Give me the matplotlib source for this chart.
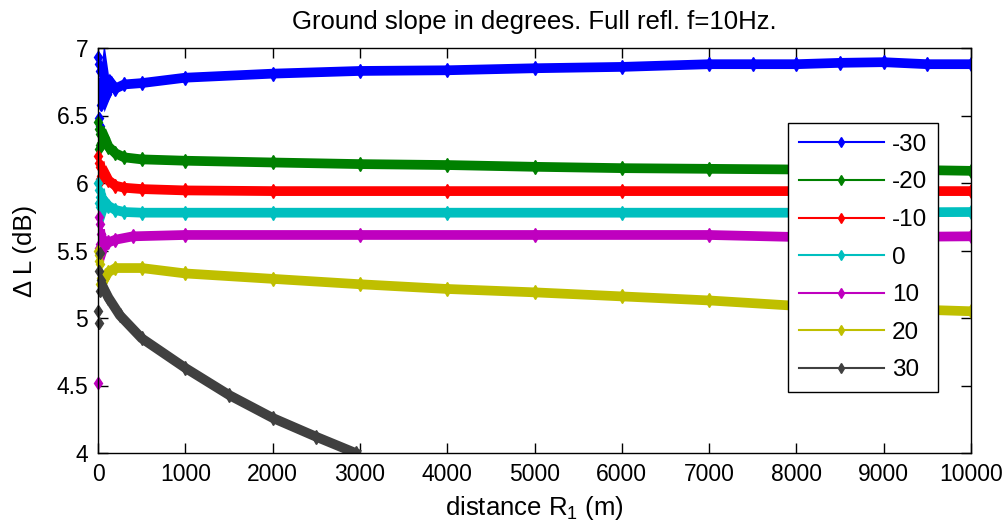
import matplotlib
matplotlib.use("Agg")
import matplotlib.pyplot as plt
from matplotlib.lines import Line2D

plt.rcParams['font.family'] = ['Liberation Sans', 'DejaVu Sans']
plt.rcParams['mathtext.fontset'] = 'custom'
plt.rcParams['mathtext.rm'] = 'Liberation Sans'
plt.rcParams['mathtext.it'] = 'Liberation Sans'

title = "Ground slope in degrees. Full refl. f=10Hz."
xlabel = "distance R$_1$ (m)"
ylabel = "\u0394 L (dB)"
labels = ["-30", "-20", "-10", "0", "10", "20", "30"]
colors = ["#0000ff", "#008000", "#ff0000", "#00bfbf", "#bf00bf", "#bfbf00", "#404040"]

# scattered values very close to the source (x < ~40 m)
x_near = [0, 6, 12, 18, 24, 30]
y_near_m30 = [6.93, 6.48, 6.88, 6.42, 6.83, 6.58]
y_near_m20 = [6.45, 6.25, 6.40, 6.28, 6.36, 6.30]
y_near_m10 = [6.20, 6.00, 6.15, 6.03, 6.12, 6.05]
y_near_0 = [6.00, 5.85, 5.95, 5.82, 5.90, 5.86]
y_near_10 = [4.52, 5.75, 5.52, 5.70, 5.55, 5.62]
y_near_20 = [5.50, 5.42, 5.47, 5.25, 5.40, 5.30]
y_near_30 = [5.05, 5.35, 4.96, 5.48, 5.20, 5.28]

x_m30 = [30, 45, 60, 80, 100, 150, 200, 300, 500, 1000, 2000, 3000, 4000, 5000, 6000, 7000, 7500, 8000, 8500, 9000, 9500, 10000]
y_m30 = [6.62, 6.76, 6.63, 6.75, 6.66, 6.74, 6.70, 6.73, 6.74, 6.78, 6.81, 6.83, 6.835, 6.85, 6.86, 6.88, 6.88, 6.88, 6.89, 6.895, 6.88, 6.88]

x_m20 = [30, 50, 80, 120, 200, 300, 500, 1000, 2000, 3000, 4000, 5000, 6000, 7000, 8000, 9000, 10000]
y_m20 = [6.38, 6.30, 6.33, 6.27, 6.22, 6.19, 6.175, 6.165, 6.152, 6.14, 6.133, 6.12, 6.11, 6.105, 6.10, 6.10, 6.09]

x_m10 = [30, 50, 80, 120, 200, 300, 500, 1000, 2000, 4000, 6000, 8000, 10000]
y_m10 = [6.12, 6.05, 6.07, 6.02, 5.98, 5.965, 5.955, 5.945, 5.94, 5.94, 5.94, 5.94, 5.94]

x_0 = [30, 50, 80, 120, 200, 300, 500, 1000, 2000, 4000, 6000, 8000, 10000]
y_0 = [5.92, 5.80, 5.86, 5.83, 5.80, 5.785, 5.78, 5.78, 5.78, 5.78, 5.78, 5.78, 5.785]

x_10 = [30, 50, 80, 120, 200, 400, 1000, 3000, 5000, 7000, 8000, 9000, 10000]
y_10 = [5.62, 5.50, 5.56, 5.56, 5.58, 5.605, 5.615, 5.615, 5.615, 5.615, 5.60, 5.60, 5.605]

x_20 = [30, 50, 80, 120, 200, 500, 1000, 2000, 3000, 4000, 5000, 6000, 7000, 8000, 9000, 10000]
y_20 = [5.22, 5.26, 5.30, 5.34, 5.37, 5.37, 5.33, 5.29, 5.25, 5.215, 5.19, 5.16, 5.13, 5.09, 5.07, 5.05]

x_30 = [30, 50, 80, 120, 250, 500, 1000, 1500, 2000, 2500, 2950]
y_30 = [5.26, 5.24, 5.20, 5.15, 5.02, 4.85, 4.63, 4.43, 4.26, 4.12, 4.0]

near_y = [y_near_m30, y_near_m20, y_near_m10, y_near_0, y_near_10, y_near_20, y_near_30]
series_x = [x_m30, x_m20, x_m10, x_0, x_10, x_20, x_30]
series_y = [y_m30, y_m20, y_m10, y_0, y_10, y_20, y_30]

xticks = [0, 1000, 2000, 3000, 4000, 5000, 6000, 7000, 8000, 9000, 10000]
yticks = [4, 4.5, 5, 5.5, 6, 6.5, 7]
yticklabels = ["4", "4.5", "5", "5.5", "6", "6.5", "7"]

fig = plt.figure(figsize=(10.05, 5.30), dpi=100)
ax = fig.add_axes([98/1005, 1 - 453/530, 873/1005, 405/530])

for xs, ys, ny, c in zip(series_x, series_y, near_y, colors):
    ax.plot(x_near, ny, color=c, lw=0.8, marker='d', ms=6, ls='none', clip_on=False)
    ax.plot(xs, ys, color=c, lw=7, marker='d', ms=7, solid_joinstyle='miter')

ax.set_xlim(0, 10000)
ax.set_ylim(4, 7)
ax.set_xticks(xticks)
ax.set_xticklabels([str(t) for t in xticks])
ax.set_yticks(yticks)
ax.set_yticklabels(yticklabels)
ax.tick_params(direction='in', length=7, width=1, top=True, right=True, labelsize=16.5, pad=7)
for s in ax.spines.values():
    s.set_linewidth(1)

ax.set_title(title, fontsize=18.5, pad=14)
ax.set_xlabel(xlabel, fontsize=18.5, labelpad=6)
ax.set_ylabel(ylabel, fontsize=18.5, labelpad=14)

handles = [Line2D([], [], color=c, lw=1.5, marker='d', ms=5) for c in colors]
leg = ax.legend(handles, labels, loc='upper left', bbox_to_anchor=(0.790, 0.815), borderaxespad=0,
                fontsize=17.5, handlelength=3.5, handletextpad=0.35, labelspacing=0.64,
                borderpad=0.45, fancybox=False, framealpha=1, edgecolor='black')
leg.get_frame().set_linewidth(1)

fig.savefig("out.png", dpi=100)
